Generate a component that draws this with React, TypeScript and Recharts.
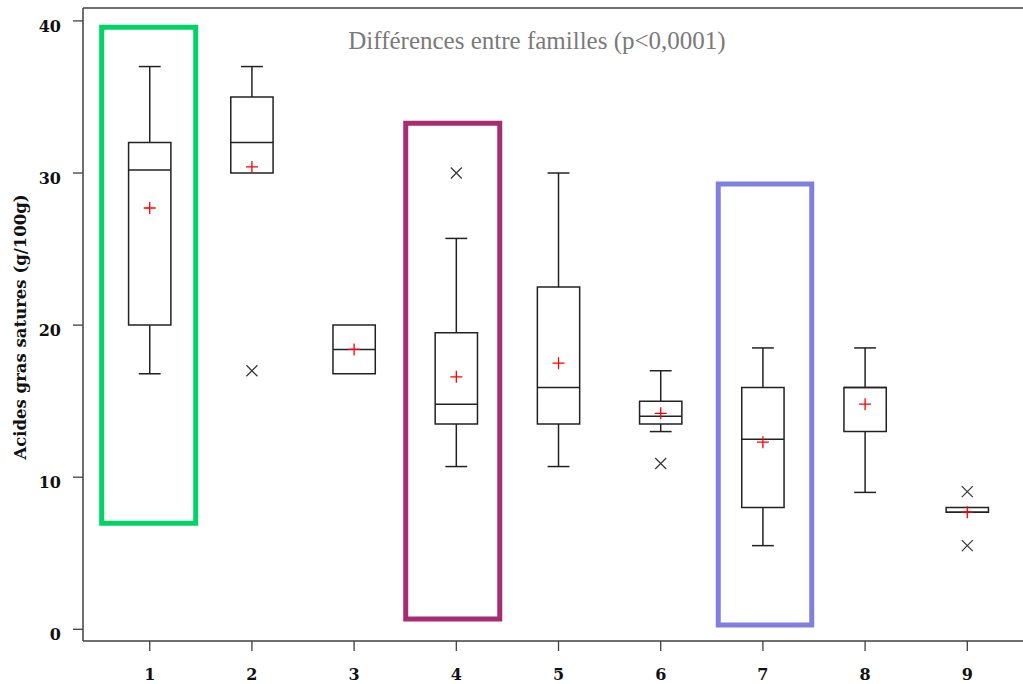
import React from 'react';
import { ComposedChart, XAxis, YAxis, Scatter, ReferenceArea, ReferenceLine } from 'recharts';

// familles (axe X) et statistiques des boîtes
const familles = [1, 2, 3, 4, 5, 6, 7, 8, 9];
const minValues = [16.8, 30, 16.8, 10.7, 10.7, 13, 5.5, 9, 7.7];
const q1Values = [20, 30, 16.8, 13.5, 13.5, 13.5, 8, 13, 7.7];
const medianValues = [30.2, 32, 18.4, 14.8, 15.9, 14, 12.5, 15.9, 7.7];
const q3Values = [32, 35, 20, 19.5, 22.5, 15, 15.9, 15.9, 8];
const maxValues = [37, 37, 20, 25.7, 30, 17, 18.5, 18.5, 8];
const meanValues = [27.7, 30.4, 18.4, 16.6, 17.5, 14.2, 12.3, 14.8, 7.7];

// valeurs extrêmes
const outlierFamilles = [2, 4, 6, 9, 9];
const outlierValues = [17, 30, 10.9, 9.05, 5.5];

const yTicks = [0, 10, 20, 30, 40];

// cadres de couleur autour des familles 1, 4 et 7
const highlightColors = ['#00d466', '#a62b70', '#7f7fdf'];
const highlightX1 = [0.53, 3.505, 6.563];
const highlightX2 = [1.45, 4.425, 7.478];
const highlightY1 = [6.98, 0.68, 0.28];
const highlightY2 = [39.58, 33.28, 29.27];

const X_DOMAIN = [0.347, 9.545];
const Y_DOMAIN = [-0.77, 40.85];
const BOX_HALF = 0.207;
const CAP_HALF = 0.107;
const AXIS_COLOR = '#404040';
const BOX_COLOR = '#222';

const meanData = familles.map((x, i) => ({ x, y: meanValues[i] }));
const outlierData = outlierFamilles.map((x, i) => ({ x, y: outlierValues[i] }));

const PlusShape = (props: any) => {
  const { cx, cy } = props;
  return (
    <path
      d={`M${cx - 6},${cy}H${cx + 6}M${cx},${cy - 6}V${cy + 6}`}
      stroke="#ff0000"
      strokeWidth={1.3}
      fill="none"
    />
  );
};

const CrossShape = (props: any) => {
  const { cx, cy } = props;
  return (
    <path
      d={`M${cx - 5.5},${cy - 5.5}L${cx + 5.5},${cy + 5.5}M${cx - 5.5},${cy + 5.5}L${cx + 5.5},${cy - 5.5}`}
      stroke="#333"
      strokeWidth={1.2}
      fill="none"
    />
  );
};

const YTick = (props: any) => {
  const { x, y, payload } = props;
  return (
    <text x={x} y={y} dy={11} textAnchor="end" fontFamily="DejaVu Serif" fontWeight="bold" fontSize={16} fill="#111">
      {payload.value}
    </text>
  );
};

const XTick = (props: any) => {
  const { x, y, payload } = props;
  return (
    <text x={x} y={y} dy={27} textAnchor="middle" fontFamily="DejaVu Serif" fontWeight="bold" fontSize={16} fill="#111">
      {payload.value}
    </text>
  );
};

const YLabel = () => (
  <text
    transform="translate(25.5,327) rotate(-90)"
    textAnchor="middle"
    style={{ fontFamily: '"DejaVu Serif", serif', fontWeight: 'bold', fontSize: 16.5 }}
    fill="#111"
  >
    Acides gras satures (g/100g)
  </text>
);

export default function App() {
  return (
    <div style={{ position: 'absolute', left: 0, top: 0, width: 1023, height: 684, background: '#fff' }}>
      <div
        style={{
          position: 'absolute',
          left: 337,
          top: 28,
          width: 400,
          textAlign: 'center',
          fontFamily: 'Liberation Serif',
          fontSize: 25,
          lineHeight: '25px',
          color: '#7a7a7a',
          whiteSpace: 'nowrap',
          zIndex: 2,
        }}
      >
        Différences entre familles (p&lt;0,0001)
      </div>
      <ComposedChart width={1023} height={684} margin={{ top: 8, right: 0, bottom: 0, left: 0 }}>
        <XAxis
          type="number"
          dataKey="x"
          domain={X_DOMAIN}
          allowDataOverflow
          ticks={familles}
          tickSize={10}
          tickMargin={2}
          height={43}
          stroke={AXIS_COLOR}
          axisLine={{ stroke: AXIS_COLOR, strokeWidth: 1.5 }}
          tickLine={{ stroke: AXIS_COLOR, strokeWidth: 1.3 }}
          tick={<XTick />}
        />
        <YAxis
          type="number"
          dataKey="y"
          domain={Y_DOMAIN}
          allowDataOverflow
          ticks={yTicks}
          tickSize={10}
          tickMargin={12}
          width={83}
          stroke={AXIS_COLOR}
          axisLine={{ stroke: AXIS_COLOR, strokeWidth: 1.5 }}
          tickLine={{ stroke: AXIS_COLOR, strokeWidth: 1.3 }}
          tick={<YTick />}
          label={{ content: <YLabel /> }}
        />
        <ReferenceLine y={Y_DOMAIN[1]} stroke={AXIS_COLOR} strokeWidth={1.5} />

        {highlightColors.map((c, i) => (
          <ReferenceArea
            key={`h${i}`}
            x1={highlightX1[i]}
            x2={highlightX2[i]}
            y1={highlightY1[i]}
            y2={highlightY2[i]}
            fill="none"
            fillOpacity={0}
            stroke={c}
            strokeWidth={5}
          />
        ))}

        {familles.map((f, i) => (
          <ReferenceArea
            key={`b${f}`}
            x1={f - BOX_HALF}
            x2={f + BOX_HALF}
            y1={q1Values[i]}
            y2={q3Values[i]}
            fill="none"
            fillOpacity={0}
            stroke={BOX_COLOR}
            strokeWidth={1.5}
          />
        ))}
        {familles.map((f, i) => (
          <ReferenceLine
            key={`m${f}`}
            segment={[{ x: f - BOX_HALF, y: medianValues[i] }, { x: f + BOX_HALF, y: medianValues[i] }]}
            stroke={BOX_COLOR}
            strokeWidth={1.5}
          />
        ))}
        {familles.map((f, i) =>
          maxValues[i] > q3Values[i] ? (
            <React.Fragment key={`wh${f}`}>
              <ReferenceLine
                segment={[{ x: f, y: q3Values[i] }, { x: f, y: maxValues[i] }]}
                stroke={BOX_COLOR}
                strokeWidth={1.5}
              />
              <ReferenceLine
                segment={[{ x: f - CAP_HALF, y: maxValues[i] }, { x: f + CAP_HALF, y: maxValues[i] }]}
                stroke={BOX_COLOR}
                strokeWidth={1.5}
              />
            </React.Fragment>
          ) : null
        )}
        {familles.map((f, i) =>
          minValues[i] < q1Values[i] ? (
            <React.Fragment key={`wl${f}`}>
              <ReferenceLine
                segment={[{ x: f, y: q1Values[i] }, { x: f, y: minValues[i] }]}
                stroke={BOX_COLOR}
                strokeWidth={1.5}
              />
              <ReferenceLine
                segment={[{ x: f - CAP_HALF, y: minValues[i] }, { x: f + CAP_HALF, y: minValues[i] }]}
                stroke={BOX_COLOR}
                strokeWidth={1.5}
              />
            </React.Fragment>
          ) : null
        )}

        <Scatter data={outlierData} dataKey="y" shape={<CrossShape />} isAnimationActive={false} />
        <Scatter data={meanData} dataKey="y" shape={<PlusShape />} isAnimationActive={false} />
      </ComposedChart>
    </div>
  );
}
